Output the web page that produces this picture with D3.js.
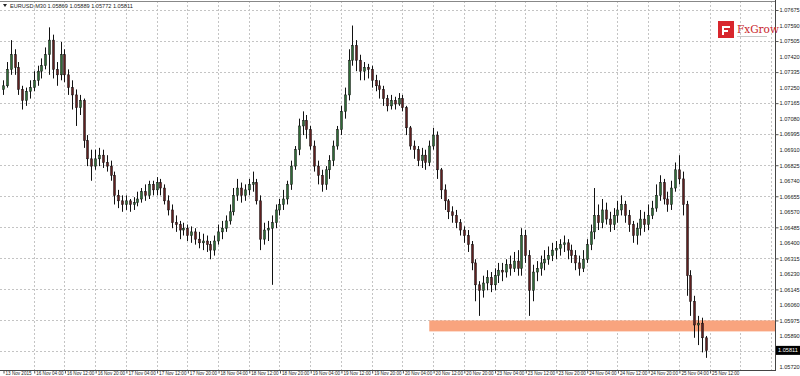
<!DOCTYPE html>
<html>
<head>
<meta charset="utf-8">
<title>EURUSD M30</title>
<script src="https://cdn.jsdelivr.net/npm/d3@7"></script>
<style>
  body { margin: 0; background: #fff; }
  svg { display: block; font-family: "Liberation Sans", Arial, sans-serif; }
  .axis text { font-size: 5.6px; fill: #222; }
  .axis.x text { font-size: 4.6px; }
  .axis path, .axis line { stroke: #555; }
  .grid line { stroke: #c4c4c4; stroke-dasharray: 2,2; shape-rendering: crispEdges; }
</style>
</head>
<body>
<svg width="800" height="376"></svg>
<script>
// hourly candles, 13 Nov 2015 20:00 -> 25 Nov 11:00
const opens = [
  1.0724,1.0726,1.0735,1.0743,1.0736,1.0724,1.0718,1.0723,
  1.0725,1.0729,1.0734,1.0737,1.0743,1.0751,1.0735,1.0732,
  1.0743,1.0732,1.0725,1.0721,1.0714,1.0718,1.0696,1.0686,
  1.0682,1.0686,1.0688,1.0684,1.0682,1.0677,1.0666,1.0663,
  1.0661,1.0663,1.0661,1.0662,1.0664,1.0668,1.0666,1.0672,
  1.0669,1.0673,1.0670,1.0663,1.0658,1.0651,1.0650,1.0647,
  1.0648,1.0644,1.0646,1.0642,1.0640,1.0641,1.0639,1.0636,
  1.0641,1.0646,1.0648,1.0652,1.0657,1.0666,1.0670,1.0666,
  1.0669,1.0672,1.0673,1.0663,1.0642,1.0647,1.0648,1.0651,
  1.0658,1.0661,1.0664,1.0672,1.0682,1.0691,1.0704,1.0707,
  1.0702,1.0693,1.0682,1.0677,1.0672,1.0680,1.0685,1.0693,
  1.0702,1.0712,1.0721,1.0740,1.0748,1.0740,1.0734,1.0736,
  1.0735,1.0729,1.0726,1.0724,1.0719,1.0715,1.0718,1.0716,
  1.0719,1.0714,1.0703,1.0693,1.0691,1.0685,1.0688,1.0684,
  1.0693,1.0699,1.0680,1.0669,1.0663,1.0657,1.0655,1.0651,
  1.0647,1.0644,1.0639,1.0629,1.0617,1.0614,1.0618,1.0621,
  1.0617,1.0622,1.0625,1.0624,1.0628,1.0626,1.0630,1.0626,
  1.0644,1.0633,1.0614,1.0624,1.0626,1.0629,1.0631,1.0633,
  1.0636,1.0637,1.0639,1.0640,1.0636,1.0633,1.0629,1.0626,
  1.0631,1.0639,1.0646,1.0655,1.0651,1.0658,1.0653,1.0650,
  1.0655,1.0658,1.0661,1.0655,1.0650,1.0644,1.0648,1.0653,
  1.0650,1.0655,1.0659,1.0666,1.0673,1.0664,1.0661,1.0670,
  1.0680,1.0675,1.0661,1.0622,1.0608,1.0595,1.0596,1.0588
];
const highs = [
  1.0729,1.0739,1.0751,1.0746,1.0739,1.0726,1.0725,1.0729,
  1.0734,1.0737,1.0741,1.0747,1.0758,1.0754,1.0739,1.0750,
  1.0746,1.0735,1.0729,1.0724,1.0721,1.0719,1.0699,1.0691,
  1.0691,1.0692,1.0691,1.0688,1.0685,1.0679,1.0669,1.0666,
  1.0666,1.0664,1.0665,1.0668,1.0670,1.0672,1.0674,1.0674,
  1.0676,1.0675,1.0672,1.0666,1.0661,1.0655,1.0652,1.0651,
  1.0650,1.0649,1.0648,1.0646,1.0645,1.0644,1.0641,1.0644,
  1.0650,1.0652,1.0655,1.0661,1.0670,1.0675,1.0673,1.0672,
  1.0675,1.0679,1.0675,1.0666,1.0651,1.0652,1.0655,1.0661,
  1.0664,1.0669,1.0674,1.0685,1.0693,1.0708,1.0712,1.0710,
  1.0704,1.0696,1.0685,1.0680,1.0682,1.0688,1.0696,1.0704,
  1.0715,1.0725,1.0746,1.0759,1.0751,1.0743,1.0739,1.0738,
  1.0737,1.0732,1.0729,1.0726,1.0721,1.0721,1.0720,1.0722,
  1.0721,1.0715,1.0704,1.0696,1.0693,1.0692,1.0691,1.0696,
  1.0703,1.0701,1.0681,1.0672,1.0664,1.0660,1.0658,1.0653,
  1.0649,1.0647,1.0641,1.0631,1.0619,1.0622,1.0625,1.0624,
  1.0626,1.0629,1.0629,1.0631,1.0633,1.0635,1.0636,1.0648,
  1.0647,1.0636,1.0628,1.0630,1.0633,1.0636,1.0638,1.0640,
  1.0641,1.0642,1.0644,1.0642,1.0639,1.0636,1.0633,1.0636,
  1.0642,1.0650,1.0670,1.0661,1.0664,1.0662,1.0657,1.0659,
  1.0663,1.0666,1.0663,1.0658,1.0652,1.0651,1.0658,1.0657,
  1.0661,1.0663,1.0672,1.0677,1.0675,1.0668,1.0674,1.0684,
  1.0688,1.0679,1.0663,1.0625,1.0611,1.0600,1.0599,1.0589
];
const lows = [
  1.0721,1.0725,1.0732,1.0732,1.0721,1.0713,1.0715,1.0719,
  1.0723,1.0726,1.0730,1.0735,1.0732,1.0730,1.0726,1.0729,
  1.0728,1.0721,1.0713,1.0704,1.0710,1.0692,1.0682,1.0674,
  1.0680,1.0682,1.0681,1.0679,1.0674,1.0661,1.0659,1.0657,
  1.0658,1.0657,1.0658,1.0660,1.0662,1.0663,1.0664,1.0666,
  1.0666,1.0666,1.0661,1.0655,1.0648,1.0646,1.0642,1.0644,
  1.0641,1.0640,1.0639,1.0637,1.0636,1.0635,1.0631,1.0633,
  1.0639,1.0642,1.0646,1.0650,1.0655,1.0663,1.0662,1.0663,
  1.0666,1.0668,1.0661,1.0636,1.0639,1.0641,1.0617,1.0648,
  1.0655,1.0658,1.0661,1.0669,1.0680,1.0688,1.0699,1.0697,
  1.0691,1.0679,1.0672,1.0668,1.0669,1.0675,1.0682,1.0691,
  1.0699,1.0708,1.0718,1.0737,1.0734,1.0729,1.0729,1.0730,
  1.0725,1.0723,1.0719,1.0715,1.0712,1.0713,1.0713,1.0715,
  1.0712,1.0699,1.0691,1.0686,1.0682,1.0681,1.0680,1.0682,
  1.0691,1.0675,1.0664,1.0658,1.0653,1.0651,1.0648,1.0644,
  1.0640,1.0635,1.0625,1.0608,1.0600,1.0610,1.0614,1.0613,
  1.0614,1.0618,1.0619,1.0621,1.0622,1.0624,1.0622,1.0622,
  1.0629,1.0600,1.0608,1.0619,1.0622,1.0625,1.0628,1.0630,
  1.0631,1.0633,1.0635,1.0631,1.0629,1.0625,1.0622,1.0624,
  1.0629,1.0636,1.0642,1.0647,1.0648,1.0650,1.0646,1.0647,
  1.0651,1.0655,1.0651,1.0646,1.0640,1.0639,1.0644,1.0646,
  1.0647,1.0653,1.0657,1.0663,1.0661,1.0657,1.0658,1.0668,
  1.0672,1.0655,1.0611,1.0600,1.0588,1.0584,1.0580,1.0577
];
const closes = [
  1.0726,1.0735,1.0743,1.0736,1.0724,1.0718,1.0723,1.0725,
  1.0729,1.0734,1.0737,1.0743,1.0751,1.0735,1.0732,1.0743,
  1.0732,1.0725,1.0721,1.0714,1.0718,1.0696,1.0686,1.0682,
  1.0686,1.0688,1.0684,1.0682,1.0677,1.0666,1.0663,1.0661,
  1.0663,1.0661,1.0662,1.0664,1.0668,1.0666,1.0672,1.0669,
  1.0673,1.0670,1.0663,1.0658,1.0651,1.0650,1.0647,1.0648,
  1.0644,1.0646,1.0642,1.0640,1.0641,1.0639,1.0636,1.0641,
  1.0646,1.0648,1.0652,1.0657,1.0666,1.0670,1.0666,1.0669,
  1.0672,1.0673,1.0663,1.0642,1.0647,1.0648,1.0651,1.0658,
  1.0661,1.0664,1.0672,1.0682,1.0691,1.0704,1.0707,1.0702,
  1.0693,1.0682,1.0677,1.0672,1.0680,1.0685,1.0693,1.0702,
  1.0712,1.0721,1.0740,1.0748,1.0740,1.0734,1.0736,1.0735,
  1.0729,1.0726,1.0724,1.0719,1.0715,1.0718,1.0716,1.0719,
  1.0714,1.0703,1.0693,1.0691,1.0685,1.0688,1.0684,1.0693,
  1.0699,1.0680,1.0669,1.0663,1.0657,1.0655,1.0651,1.0647,
  1.0644,1.0639,1.0629,1.0617,1.0614,1.0618,1.0621,1.0617,
  1.0622,1.0625,1.0624,1.0628,1.0626,1.0630,1.0626,1.0644,
  1.0633,1.0614,1.0624,1.0626,1.0629,1.0631,1.0633,1.0636,
  1.0637,1.0639,1.0640,1.0636,1.0633,1.0629,1.0626,1.0631,
  1.0639,1.0646,1.0655,1.0651,1.0658,1.0653,1.0650,1.0655,
  1.0658,1.0661,1.0655,1.0650,1.0644,1.0648,1.0653,1.0650,
  1.0655,1.0659,1.0666,1.0673,1.0664,1.0661,1.0670,1.0680,
  1.0675,1.0661,1.0622,1.0608,1.0595,1.0596,1.0588,1.0581
];

// time axis labels, one every 8 bars
const timeLabels = [
  "13 Nov 2015", "16 Nov 04:00", "16 Nov 12:00", "16 Nov 20:00",
  "17 Nov 04:00", "17 Nov 12:00", "17 Nov 20:00", "18 Nov 04:00",
  "18 Nov 12:00", "18 Nov 20:00", "19 Nov 04:00", "19 Nov 12:00",
  "19 Nov 20:00", "20 Nov 04:00", "20 Nov 12:00", "20 Nov 20:00",
  "23 Nov 04:00", "23 Nov 12:00", "23 Nov 20:00", "24 Nov 04:00",
  "24 Nov 12:00", "24 Nov 20:00", "25 Nov 04:00", "25 Nov 12:00"
];
const priceTicks = [
  1.05720, 1.05805, 1.05890, 1.05975, 1.06060, 1.06145, 1.06230, 1.06315,
  1.06400, 1.06485, 1.06570, 1.06655, 1.06740, 1.06825, 1.06910, 1.06995,
  1.07080, 1.07165, 1.07250, 1.07335, 1.07420, 1.07505, 1.07590, 1.07675
];
const lastBar = [1.05869, 1.05889, 1.05772, 1.05811];
const supportZone = [1.05915, 1.05975];
const zoneStartBar = 111;

function main() {
  const svg = d3.select("svg");
  const W = 800, H = 376;
  const plotRight = 775, plotBottom = 370, plotTop = 1;
  const barsPerLabel = 8;

  svg.append("rect").attr("width", W).attr("height", H).attr("fill", "#fff");

  const x = d3.scaleLinear().domain([0, 184]).range([3, 709.6]);
  const y = d3.scaleLinear().domain([1.05720, 1.07675]).range([367, 10]);

  const labelBars = timeLabels.map((d, i) => i * barsPerLabel);
  const gridBars = d3.range(barsPerLabel, 201, barsPerLabel);
  const gridPrices = priceTicks.filter((d, i) => i % 2 === 1);
  const yp = y(lastBar[3]);

  // grid
  const grid = svg.append("g").attr("class", "grid");
  grid.selectAll(".v").data(gridBars).join("line")
      .attr("x1", d => Math.round(x(d)) + 0.5).attr("x2", d => Math.round(x(d)) + 0.5)
      .attr("y1", plotTop).attr("y2", plotBottom);
  grid.selectAll(".h").data(gridPrices).join("line")
      .attr("x1", 0).attr("x2", plotRight)
      .attr("y1", d => Math.round(y(d)) + 0.5).attr("y2", d => Math.round(y(d)) + 0.5);

  // support zone
  svg.append("rect")
      .attr("x", x(zoneStartBar))
      .attr("y", y(supportZone[1]))
      .attr("width", plotRight - x(zoneStartBar))
      .attr("height", y(supportZone[0]) - y(supportZone[1]))
      .attr("fill", "#f9a47e");

  // candles
  const bars = d3.range(closes.length);
  const candles = svg.append("g");
  candles.selectAll("line").data(bars).join("line")
      .attr("x1", i => Math.round(x(i)) + 0.5).attr("x2", i => Math.round(x(i)) + 0.5)
      .attr("y1", i => y(highs[i])).attr("y2", i => y(lows[i]))
      .attr("stroke", "#111").attr("stroke-width", 1);
  candles.selectAll("rect").data(bars).join("rect")
      .attr("x", i => Math.round(x(i)) - 0.5)
      .attr("width", 2)
      .attr("y", i => y(Math.max(opens[i], closes[i])))
      .attr("height", i => Math.max(1, Math.abs(y(opens[i]) - y(closes[i]))))
      .attr("fill", i => closes[i] >= opens[i] ? "#2f6a36" : "#5e1f1f")
      .attr("stroke", "#111").attr("stroke-width", 0.5);

  // frame
  svg.append("line").attr("x1", plotRight + 0.5).attr("x2", plotRight + 0.5)
      .attr("y1", 0).attr("y2", plotBottom).attr("stroke", "#444");
  svg.append("line").attr("x1", 0).attr("x2", plotRight + 1)
      .attr("y1", plotBottom + 0.5).attr("y2", plotBottom + 0.5).attr("stroke", "#444");
  svg.append("line").attr("x1", 0).attr("x2", plotRight)
      .attr("y1", plotTop + 0.5).attr("y2", plotTop + 0.5).attr("stroke", "#888");

  // axes (the labels hidden under the current price tag are dropped, as in the terminal)
  const yAxis = svg.append("g").attr("class", "axis y")
      .attr("transform", `translate(${plotRight + 0.5},0)`)
      .call(d3.axisRight(y).tickValues(priceTicks.filter(d => Math.abs(y(d) - yp) > 6))
        .tickFormat(d3.format(".5f")).tickSize(3).tickPadding(1));
  yAxis.select(".domain").remove();
  yAxis.selectAll(".tick").filter(d => !gridPrices.includes(d)).select("line").remove();

  const xAxis = svg.append("g").attr("class", "axis x")
      .attr("transform", `translate(0,${plotBottom + 0.5})`)
      .call(d3.axisBottom(x).tickValues(labelBars).tickFormat((d, i) => timeLabels[i]).tickSize(3));
  xAxis.select(".domain").remove();
  xAxis.selectAll(".tick line").attr("transform", "translate(0.5,0)");
  xAxis.selectAll(".tick text").attr("text-anchor", "start").attr("x", 2).attr("y", 1).attr("dy", "0.71em");

  // current price tag
  svg.append("rect").attr("x", plotRight + 1).attr("y", yp - 4.5)
      .attr("width", 24).attr("height", 9).attr("fill", "#000");
  svg.append("text").attr("x", plotRight + 3).attr("y", yp + 2)
      .attr("font-size", 5.6).attr("fill", "#fff").text(d3.format(".5f")(lastBar[3]));

  // header
  svg.append("path").attr("d", "M3,4 L7,4 L5,7 Z").attr("fill", "#222");
  svg.append("text").attr("x", 10).attr("y", 7.5).attr("font-size", 5.6).attr("fill", "#222")
      .text("EURUSD,M30  " + lastBar.map(d3.format(".5f")).join(" "));

  // FxGrow logo
  const logo = svg.append("g").attr("transform", "translate(718,21)");
  logo.append("rect").attr("width", 16).attr("height", 17).attr("fill", "#d8262d");
  logo.append("rect").attr("x", 4).attr("y", 5).attr("width", 8).attr("height", 2).attr("fill", "#fff");
  logo.append("rect").attr("x", 4).attr("y", 9).attr("width", 6).attr("height", 2).attr("fill", "#fff");
  logo.append("rect").attr("x", 4).attr("y", 5).attr("width", 2).attr("height", 9).attr("fill", "#fff");
  logo.append("text").attr("x", 19).attr("y", 12).attr("font-family", "'DejaVu Serif', serif")
      .attr("font-size", 10.5).attr("fill", "#c9262c").text("FxGrow");
  logo.append("rect").attr("x", 19).attr("y", 15).attr("width", 30).attr("height", 0.8).attr("fill", "#bbb");
}
main();
</script>
</body>
</html>
